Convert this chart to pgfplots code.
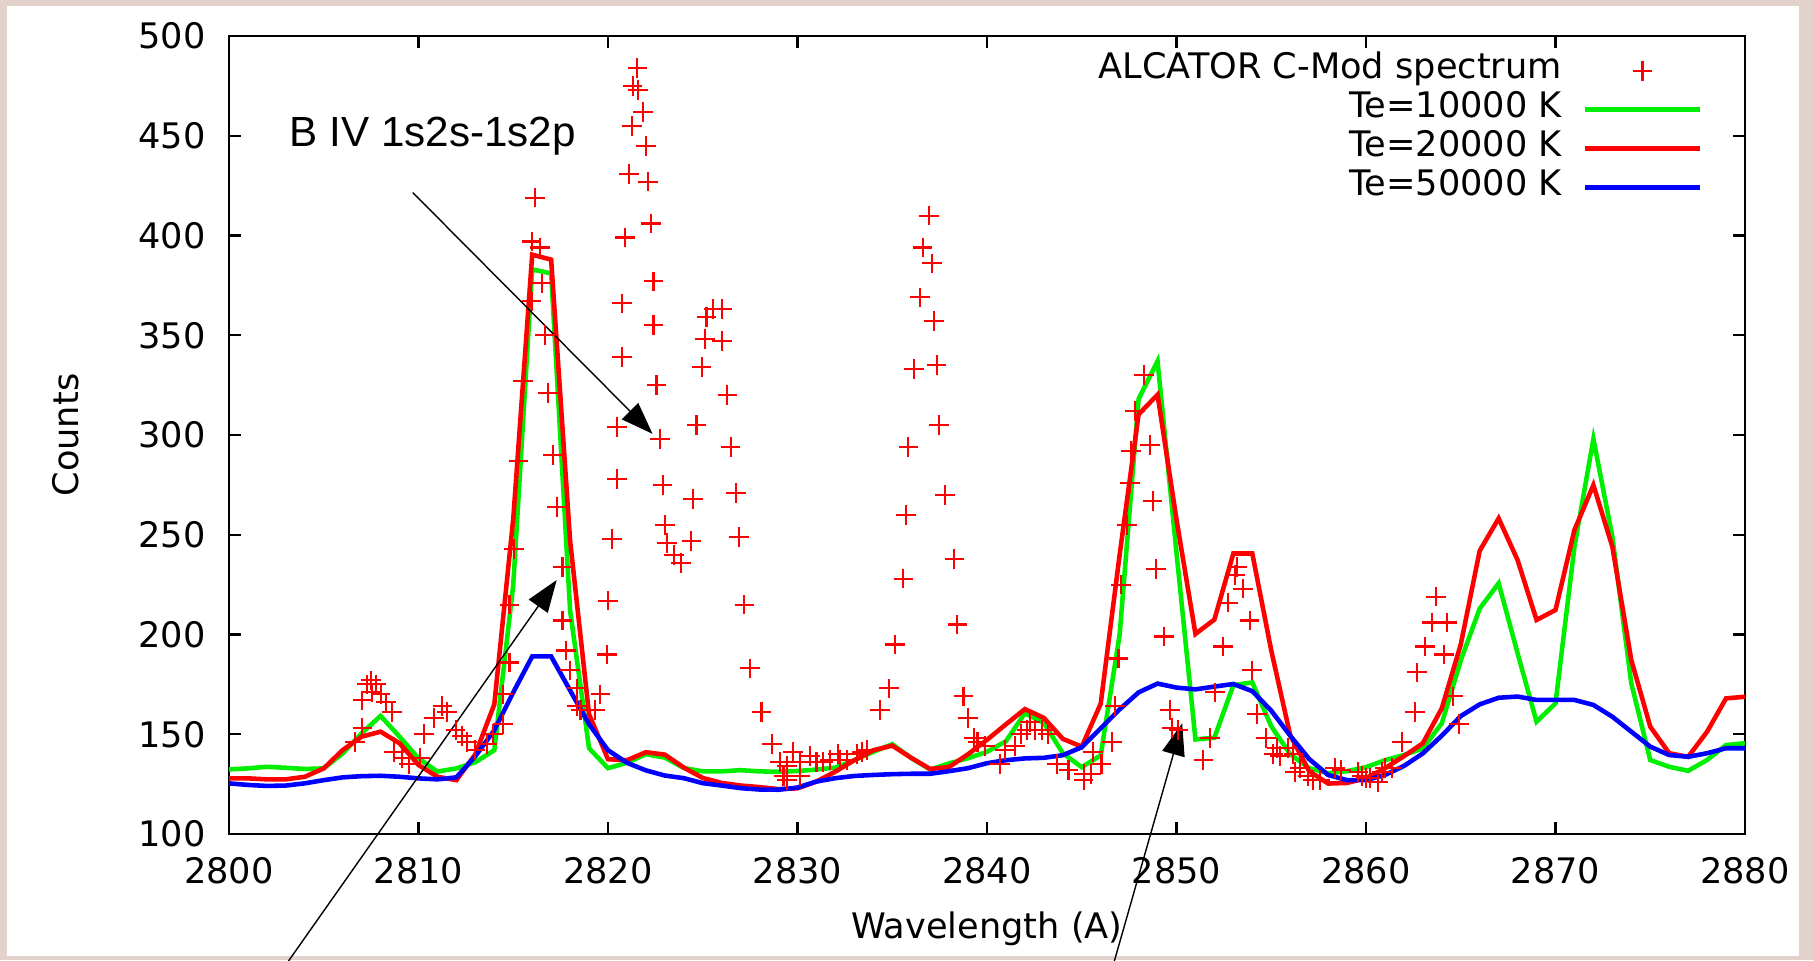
\documentclass[border=0pt]{standalone}
\usepackage{fontspec}
\setmainfont{DejaVu Sans}
\newfontfamily\annfont{Liberation Sans}
\usepackage{pgfplots}
\pgfplotsset{compat=1.18}
\usetikzlibrary{arrows.meta}

\definecolor{bgedge}{RGB}{226,210,203}
\definecolor{gpred}{RGB}{255,0,0}
\definecolor{gpgreen}{RGB}{0,238,0}
\definecolor{gpblue}{RGB}{0,0,255}

\pgfplotsset{
  gp line legend/.style={legend image code/.code={\draw[##1] (0cm,0cm) -- (1.15cm,0cm);}},
  gp mark legend/.style={legend image code/.code={\path (0cm,0cm) (1.15cm,0cm);
    \draw[##1] plot[only marks] coordinates {(0.575cm,0cm)};}},
}

\begin{document}
\begin{tikzpicture}[x=1cm,y=1cm]
\fill[bgedge] (0,0) rectangle (18.14,9.60);
\fill[white] (0.07,0.04) rectangle (17.99,9.54);
\useasboundingbox (0,0) rectangle (18.14,9.60);
\begin{axis}[
  at={(2.29cm,1.26cm)}, anchor=south west,
  scale only axis, width=15.16cm, height=7.98cm,
  xmin=2800, xmax=2880, ymin=100, ymax=500,
  xtick={2800,2810,...,2880}, ytick={100,150,...,500},
  tick align=inside, major tick length=0.12cm,
  axis line style={line width=0.7pt},
  every tick/.style={line width=0.7pt, black},
  /pgf/number format/1000 sep={},
  /pgf/number format/assume math mode=true,
  ticklabel style={font=\fontsize{10}{12}\selectfont},
  xticklabel style={yshift=-0.11cm},
  yticklabel style={xshift=-0.11cm},
  xlabel={Wavelength (A)}, ylabel={Counts},
  every axis x label/.style={at={(axis description cs:0.5,-0.119)}, anchor=center, font=\fontsize{10}{12}\selectfont},
  every axis y label/.style={at={(axis description cs:-0.1075,0.5)}, anchor=center, rotate=90, font=\fontsize{10}{12}\selectfont},
  clip=false,
  legend plot pos=right,
  legend cell align=right,
  gp line legend,
  legend style={draw=none, fill=none, at={(0.9723,0.9818)}, anchor=north east,
    inner sep=0pt, column sep=0.21cm, row sep=0pt,
    nodes={inner sep=0pt, text height=0.27cm, text depth=0.12cm},
    font=\fontsize{10}{12}\selectfont},
]

% measured spectrum
\addplot[only marks, mark=+, mark size=2.8pt, color=gpred, mark options={line width=0.6pt}, gp mark legend]
  table {
2806.65 146
2807.04 153
2807.04 167
2807.30 175
2807.48 177
2807.56 171
2807.74 175
2808.00 170
2808.27 166
2808.60 161
2808.70 141
2809.15 138
2809.50 135
2810.10 138
2810.30 150
2810.80 158
2811.26 164
2811.50 161
2811.96 152
2812.30 149
2812.55 146
2813.00 142
2813.60 145
2813.95 150
2814.47 155
2814.47 170
2814.80 186
2814.80 215
2815.04 243
2815.27 287
2815.53 327
2815.97 367
2815.97 397
2816.15 419
2816.40 394
2816.50 376
2816.68 350
2816.85 321
2817.10 290
2817.29 264
2817.60 234
2817.60 207
2817.80 192
2817.99 182
2818.35 173
2818.35 164
2818.55 162
2819.30 162
2819.60 170
2819.93 190
2820.00 217
2820.20 248
2820.46 278
2820.46 304
2820.73 339
2820.73 366
2820.90 399
2821.10 431
2821.25 455
2821.30 475
2821.55 484
2821.60 473
2821.86 462
2822.00 445
2822.10 427
2822.27 406
2822.40 377
2822.40 355
2822.56 325
2822.74 298
2822.88 275
2823.00 255
2823.10 246
2823.48 240
2823.84 236
2824.40 247
2824.50 268
2824.67 305
2824.94 334
2825.12 348
2825.20 359
2825.56 363
2826.03 363
2826.00 347
2826.30 320
2826.47 294
2826.75 271
2826.90 249
2827.20 215
2827.50 183
2828.10 161
2828.67 145
2829.08 136
2829.26 129
2829.43 134
2829.43 127
2829.78 141
2830.13 136
2830.13 129
2830.66 139
2831.00 136
2831.36 136
2831.71 137
2832.15 140
2832.24 137
2832.59 137
2833.12 140
2833.38 141
2833.65 142
2834.35 162
2834.83 173
2835.15 195
2835.59 228
2835.73 260
2835.85 294
2836.15 333
2836.46 369
2836.60 394
2836.94 410
2837.08 386
2837.20 357
2837.34 335
2837.48 305
2837.78 270
2838.28 238
2838.44 205
2838.76 169
2839.00 158
2839.30 148
2839.50 146
2839.90 144
2840.70 135
2840.95 142
2841.48 144
2841.80 150
2842.10 152
2842.27 156
2842.53 152
2842.90 152
2843.20 150
2843.68 135
2844.30 132
2845.10 130
2845.10 127
2845.50 130
2845.60 141
2846.04 135
2846.60 146
2846.75 164
2846.94 188
2847.06 225
2847.37 255
2847.55 276
2847.60 292
2847.80 312
2848.28 330
2848.60 295
2848.74 267
2848.90 233
2849.34 199
2849.66 162
2849.74 153
2850.10 152
2851.42 137
2851.77 148
2852.03 171
2852.47 194
2852.74 216
2853.10 230
2853.18 234
2853.50 223
2853.86 207
2853.97 182
2854.24 160
2854.74 148
2855.11 140
2855.30 143
2855.46 139
2855.90 143
2856.17 140
2856.25 131
2856.50 133
2856.95 129
2857.20 127
2857.57 127
2858.36 133
2858.70 132
2859.60 131
2859.77 129
2860.00 128
2860.20 128
2860.65 126
2860.84 131
2861.00 133
2861.36 133
2861.90 146
2862.60 161
2862.70 181
2863.10 194
2863.47 206
2863.70 219
2864.10 190
2864.26 206
2864.60 169
2864.90 155
};
\addlegendentry{ALCATOR C-Mod spectrum}

% Te = 10000 K
\addplot[gpgreen, line width=1.3pt, mark=none] table {
2800 132.4
2801 132.9
2802 133.7
2803 133.2
2804 132.6
2805 132.9
2806 140.4
2807 150.5
2808 159.2
2809 148.8
2810 137.9
2811 131.3
2812 132.9
2813 136.0
2814 142.0
2815 225.0
2816 383.0
2817 381.0
2818 212.0
2819 143.0
2820 133.0
2821 135.7
2822 140.0
2823 138.3
2824 133.1
2825 131.4
2826 131.4
2827 132.0
2828 131.4
2829 131.2
2830 131.6
2831 132.3
2832 133.3
2833 137.0
2834 141.2
2835 145.0
2836 138.1
2837 132.3
2838 135.4
2839 138.0
2840 141.2
2841 146.5
2842 160.6
2843 155.7
2844 140.5
2845 133.5
2846 139.4
2847 200.0
2848 318.0
2849 337.0
2850 241.0
2851 147.4
2852 148.3
2853 174.6
2854 176.0
2855 154.0
2856 140.0
2857 133.0
2858 130.5
2859 131.5
2860 133.5
2861 137.0
2862 139.6
2863 142.9
2864 155.5
2865 187.0
2866 213.0
2867 225.7
2868 190.6
2869 156.3
2870 165.5
2871 244.0
2872 298.0
2873 249.0
2874 175.5
2875 137.1
2876 133.7
2877 131.7
2878 137.1
2879 144.6
2880 145.5
};
\addlegendentry{Te=10000 K}

% Te = 20000 K
\addplot[gpred, line width=1.3pt, mark=none] table {
2800 127.9
2801 127.9
2802 127.4
2803 127.4
2804 128.7
2805 132.9
2806 142.1
2807 148.8
2808 151.3
2809 145.5
2810 134.6
2811 128.7
2812 127.0
2813 140.0
2814 165.0
2815 258.0
2816 390.4
2817 387.9
2818 247.0
2819 160.0
2820 137.5
2821 137.0
2822 141.0
2823 139.8
2824 133.3
2825 128.1
2826 125.6
2827 124.3
2828 123.5
2829 122.5
2830 122.9
2831 126.3
2832 131.3
2833 137.0
2834 142.0
2835 144.3
2836 138.2
2837 132.6
2838 133.6
2839 140.0
2840 147.2
2841 155.0
2842 162.6
2843 158.2
2844 147.7
2845 143.8
2846 165.3
2847 240.0
2848 310.4
2849 320.2
2850 257.6
2851 200.3
2852 207.5
2853 240.6
2854 240.6
2855 192.0
2856 149.5
2857 131.5
2858 125.3
2859 125.6
2860 128.0
2861 133.0
2862 139.0
2863 145.5
2864 163.0
2865 195.0
2866 242.0
2867 258.2
2868 237.3
2869 207.3
2870 212.3
2871 252.4
2872 274.9
2873 244.0
2874 187.2
2875 153.8
2876 140.5
2877 138.7
2878 151.3
2879 168.0
2880 168.8
};
\addlegendentry{Te=20000 K}

% Te = 50000 K
\addplot[gpblue, line width=1.3pt, mark=none] table {
2800 125.4
2801 124.6
2802 124.1
2803 124.3
2804 125.4
2805 127.0
2806 128.4
2807 129.0
2808 129.2
2809 128.7
2810 127.9
2811 127.4
2812 128.4
2813 139.0
2814 152.0
2815 171.0
2816 189.0
2817 189.0
2818 172.0
2819 155.0
2820 142.0
2821 135.7
2822 131.9
2823 129.3
2824 128.0
2825 125.5
2826 124.3
2827 123.0
2828 122.3
2829 122.2
2830 123.3
2831 126.3
2832 128.0
2833 129.1
2834 129.6
2835 130.0
2836 130.2
2837 130.2
2838 131.5
2839 133.0
2840 135.5
2841 137.0
2842 137.9
2843 138.2
2844 139.5
2845 143.5
2846 153.0
2847 162.5
2848 171.0
2849 175.4
2850 173.4
2851 172.5
2852 173.9
2853 175.2
2854 171.6
2855 161.8
2856 149.3
2857 137.6
2858 129.6
2859 127.0
2860 127.0
2861 129.6
2862 134.1
2863 140.4
2864 149.3
2865 159.1
2866 165.0
2867 168.3
2868 168.9
2869 167.2
2870 167.2
2871 167.2
2872 164.7
2873 158.8
2874 151.3
2875 143.8
2876 139.6
2877 138.7
2878 140.5
2879 143.0
2880 143.0
};
\addlegendentry{Te=50000 K}

% annotations
\node[anchor=base west, inner sep=0pt, font=\annfont\fontsize{12}{14}\selectfont]
  at (axis cs:2803.17,444.4) {B IV 1s2s-1s2p};
\draw[line width=0.4pt, -{Triangle[length=0.32cm, width=0.23cm]}]
  (axis cs:2809.7,421.5) -- (axis cs:2822.35,300.6);
\draw[line width=0.4pt, -{Triangle[length=0.32cm, width=0.23cm]}]
  (axis cs:2802.67,30) -- (axis cs:2817.29,227.3);
\draw[line width=0.4pt, -{Triangle[length=0.32cm, width=0.23cm]}]
  (axis cs:2846.53,30) -- (axis cs:2850.3,155.5);
\end{axis}
\end{tikzpicture}
\end{document}
